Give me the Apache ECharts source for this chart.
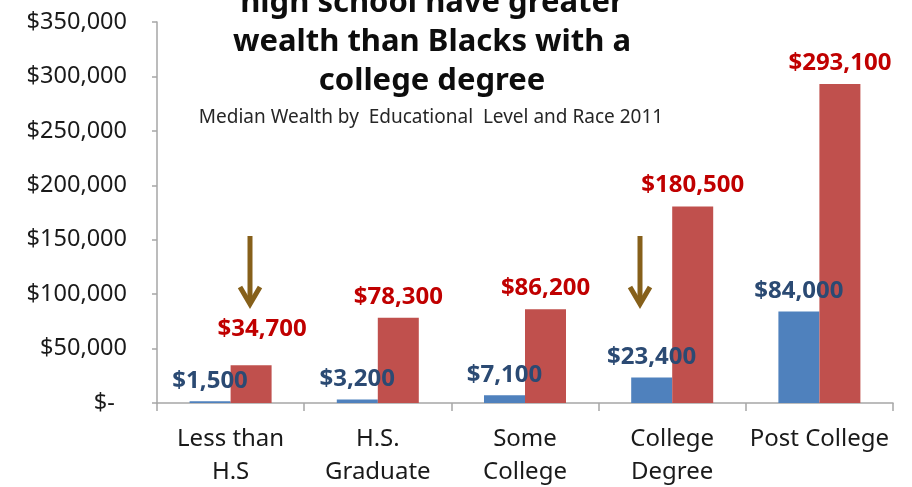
<!DOCTYPE html>
<html>
<head>
<meta charset="utf-8">
<script src="https://cdn.jsdelivr.net/npm/echarts@6/dist/echarts.min.js"></script>
<style>
html,body{margin:0;padding:0;background:#fff;}
#chart{width:912px;height:487px;}
</style>
</head>
<body>
<div id="chart"></div>
<script>
// ---- data ----
const categories = ['Less than\nH.S', 'H.S.\nGraduate', 'Some\nCollege', 'College\nDegree', 'Post College'];
const blackWealth = [1500, 3200, 7100, 23400, 84000];
const whiteWealth = [34700, 78300, 86200, 180500, 293100];
const yTicks = [0, 50000, 100000, 150000, 200000, 250000, 300000, 350000];
const titleLines = ['high school have greater', 'wealth than Blacks with a', 'college degree'];
const subtitle = 'Median Wealth by  Educational  Level and Race 2011';

// ---- styling ----
const FONT = '"Noto Sans", "Open Sans", sans-serif';
const fmt = v => '$' + v.toLocaleString('en-US');
const arrowColor = '#86601A';

const chart = echarts.init(document.getElementById('chart'), null, {renderer: 'canvas'});

function arrow(x, y1, y2) {
  return {
    type: 'group',
    children: [
      {type: 'line', shape: {x1: x, y1: y1, x2: x, y2: y2 - 2}, style: {stroke: arrowColor, lineWidth: 5}},
      {type: 'polyline', shape: {points: [[x - 10, y2 - 17], [x, y2], [x + 10, y2 - 17]]},
       style: {stroke: arrowColor, lineWidth: 5, fill: null, lineJoin: 'miter'}}
    ]
  };
}

const graphics = titleLines.map((t, i) => ({
  type: 'text',
  style: {
    text: t, x: 432, y: 3 + i * 39,
    align: 'center', verticalAlign: 'middle',
    font: 'bold 31px ' + FONT, fill: '#0d0d0d'
  }
}));
graphics.push({
  type: 'text',
  style: {
    text: subtitle, x: 431, y: 118,
    align: 'center', verticalAlign: 'middle',
    font: '19px ' + FONT, fill: '#262626'
  }
});
graphics.push(arrow(250, 236, 304));
graphics.push(arrow(640, 236, 304));

const option = {
  backgroundColor: '#fff',
  animation: false,
  grid: {left: 157, right: 19, top: 22, bottom: 84, containLabel: false, outerBoundsMode: 'none'},
  xAxis: {
    type: 'category',
    data: categories,
    axisLine: {lineStyle: {color: '#a6a6a6', width: 1.5}},
    axisTick: {show: true, length: 8, alignWithLabel: false, lineStyle: {color: '#a6a6a6', width: 1.5}},
    axisLabel: {
      interval: 0, margin: 20, fontSize: 24, lineHeight: 33, color: '#1a1a1a', fontFamily: FONT
    }
  },
  yAxis: {
    type: 'value',
    min: yTicks[0], max: yTicks[yTicks.length - 1], interval: yTicks[1] - yTicks[0],
    splitLine: {show: false},
    axisLine: {show: true, lineStyle: {color: '#a6a6a6', width: 1.5}},
    axisTick: {show: true, length: 5, lineStyle: {color: '#a6a6a6', width: 1.5}},
    axisLabel: {
      margin: 30, fontSize: 23.5, color: '#1a1a1a', fontFamily: FONT,
      formatter: v => v === 0 ? '$-  ' : fmt(v)
    }
  },
  series: [
    {
      name: 'Blacks', type: 'bar', data: blackWealth,
      barWidth: 41, barGap: '0%',
      itemStyle: {color: '#4F81BD'},
      label: {
        show: true, position: 'top', distance: 8,
        formatter: p => fmt(p.value),
        fontSize: 24, fontWeight: 'bold', color: '#2B4A73', fontFamily: FONT
      }
    },
    {
      name: 'Whites', type: 'bar',
      data: whiteWealth.map((v, i) => i === 0 ? {value: v, label: {offset: [11, -15]}} : v),
      barWidth: 41,
      itemStyle: {color: '#C0504D'},
      label: {
        show: true, position: 'top', distance: 9,
        formatter: p => fmt(p.value),
        fontSize: 24, fontWeight: 'bold', color: '#C00000', fontFamily: FONT
      }
    }
  ],
  graphic: graphics
};
chart.setOption(option);
</script>
</body>
</html>
